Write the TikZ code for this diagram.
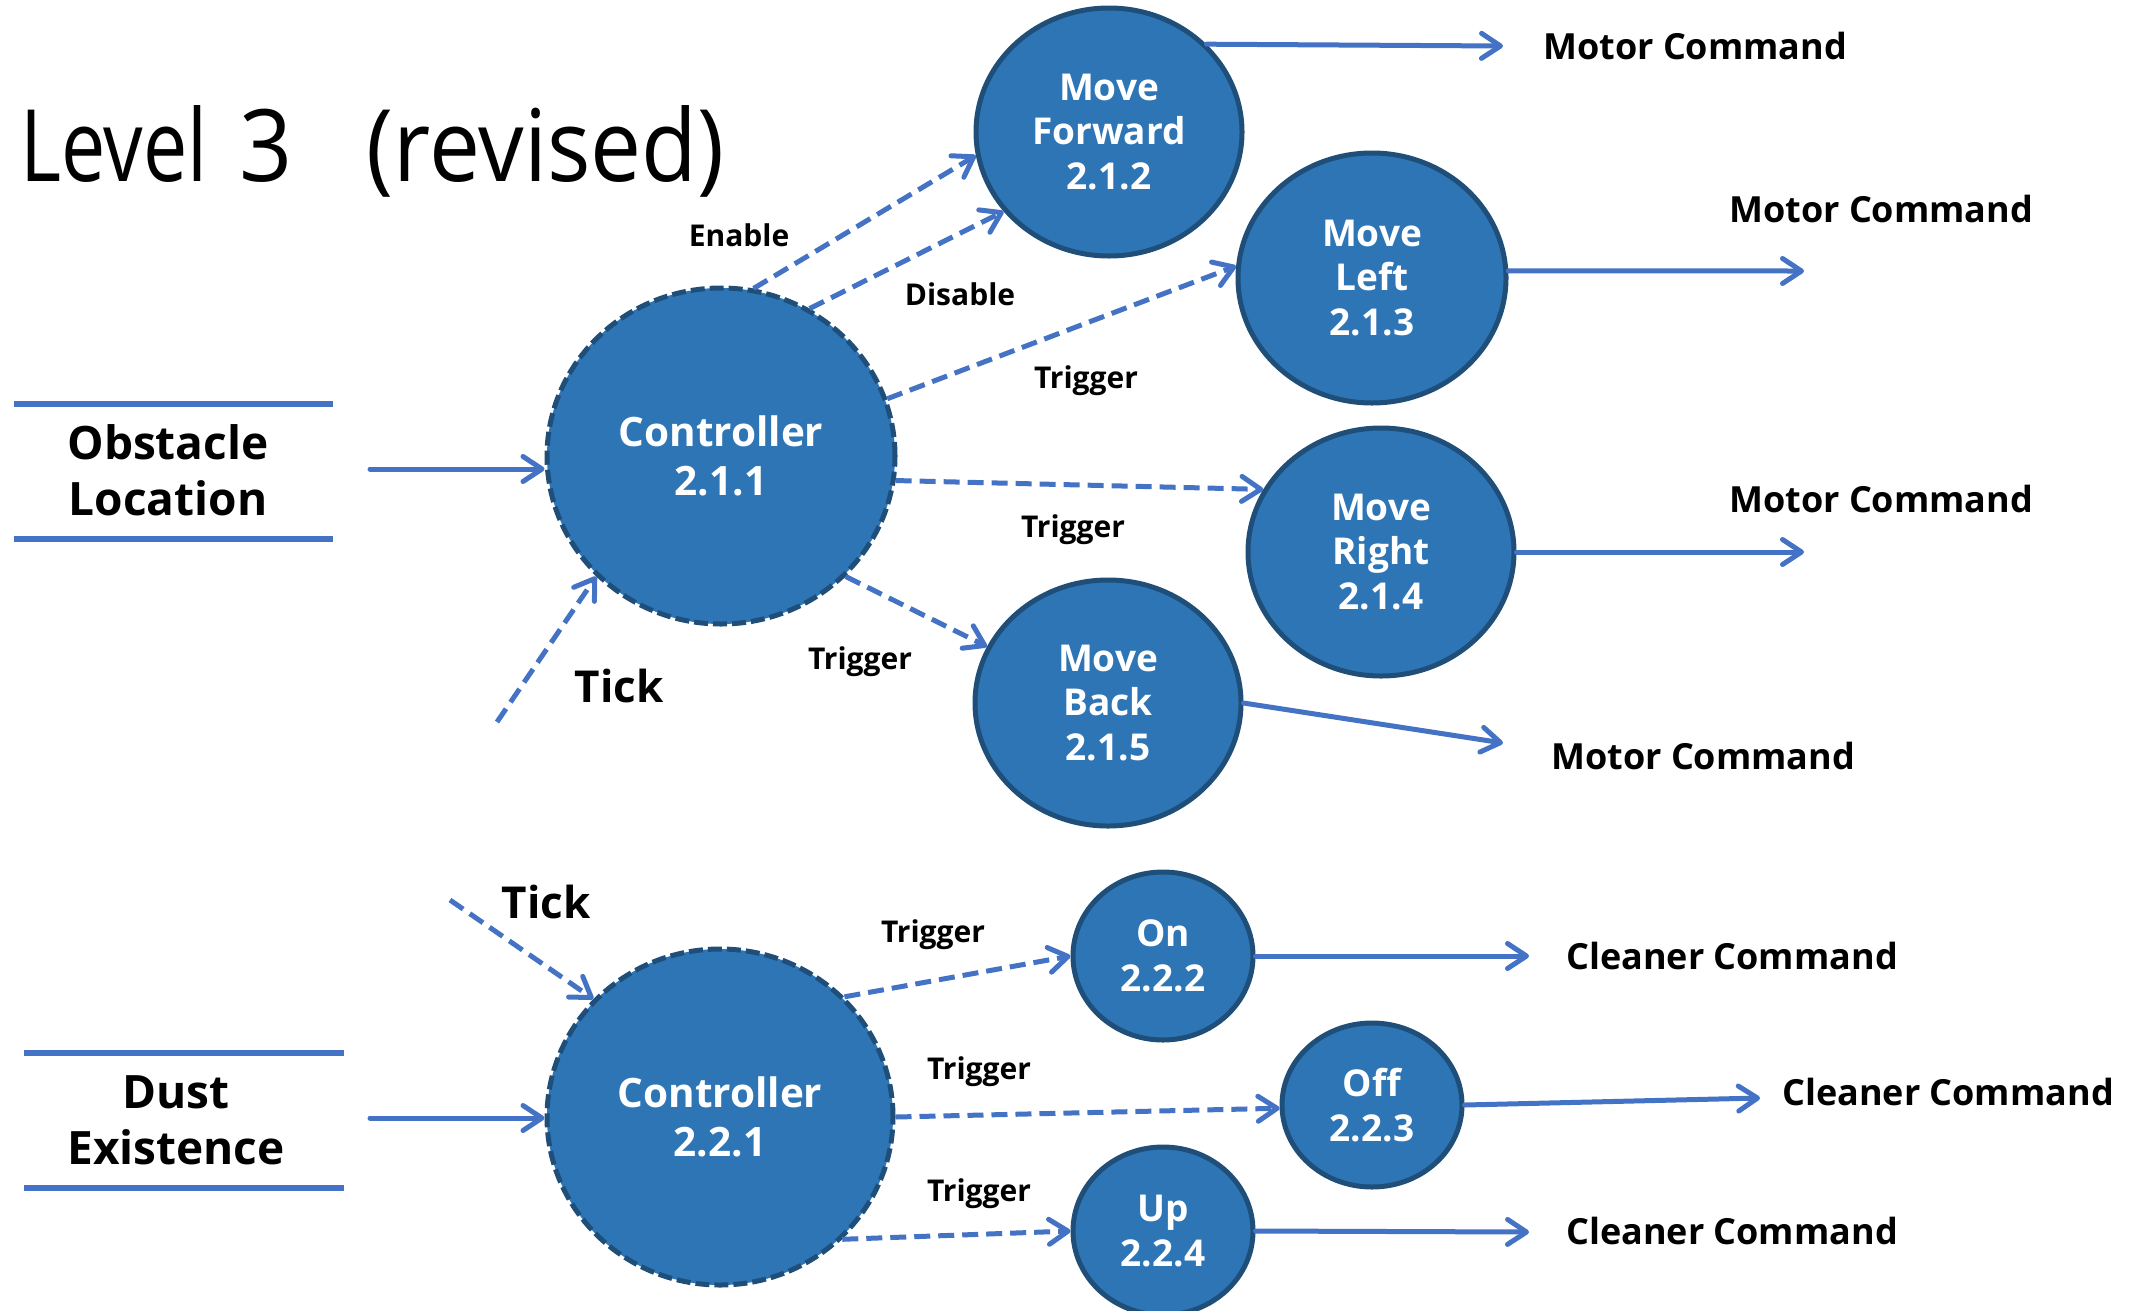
\documentclass[tikz,border=0pt]{standalone}
\usepackage{fontspec}
\setmainfont{Open Sans}
\usetikzlibrary{arrows.meta,shapes.geometric}
\definecolor{fillblue}{HTML}{2E75B6}
\definecolor{edgeblue}{HTML}{1F4E79}
\definecolor{arrblue}{HTML}{4472C4}
\begin{document}
\begin{tikzpicture}[x=1pt,y=-1pt,
  proc/.style={ellipse, draw=edgeblue, fill=fillblue, line width=5pt, inner sep=0pt, text=white, font=\bfseries\fontsize{37}{44.5}\selectfont, align=center},
  ctrl/.style={proc, dash pattern=on 14pt off 5pt, font=\bfseries\fontsize{40.5}{49}\selectfont},
  flow/.style={draw=arrblue, line width=5pt, line cap=round, -{Straight Barb[length=19pt,width=25pt,round]}},
  ctl/.style={flow, dash pattern=on 16pt off 8pt, line cap=butt},
  lbl/.style={font=\bfseries\fontsize{30}{34}\selectfont, inner sep=0pt},
  cmd/.style={font=\bfseries\fontsize{36}{40}\selectfont, anchor=west, inner sep=0pt},
  big/.style={font=\bfseries\fontsize{46}{56}\selectfont, align=center, inner sep=0pt},
  store/.style={draw=arrblue, line width=6pt}]
\useasboundingbox (0,0) rectangle (2133,1310);

% title
\node[anchor=base west, inner sep=0pt, font=\fontsize{100}{110}\selectfont] (title) at (20,181)
  {\scalebox{0.79}[1]{Level}\hspace*{32pt}\scalebox{0.93}[1]{3}\hspace*{74pt}\scalebox{0.91}[1]{(revised)}};

% processes
\node[ctrl, minimum width=348pt, minimum height=336pt] (c1) at (721,456) {Controller\\2.1.1};
\node[proc, minimum width=266pt, minimum height=248pt] (mf) at (1109,132) {Move\\Forward\\2.1.2};
\node[proc, minimum width=268pt, minimum height=250pt] (ml) at (1372,278) {Move\\Left\\2.1.3};
\node[proc, minimum width=266pt, minimum height=248pt] (mr) at (1381,552) {Move\\Right\\2.1.4};
\node[proc, minimum width=266pt, minimum height=246pt] (mb) at (1108,703) {Move\\Back\\2.1.5};
\node[ctrl, minimum width=346pt, minimum height=336pt] (c2) at (720,1117) {Controller\\2.2.1};
\node[proc, minimum width=180pt, minimum height=168pt] (on) at (1163,956) {On\\2.2.2};
\node[proc, minimum width=180pt, minimum height=164pt] (off) at (1372,1105) {Off\\2.2.3};
\node[proc, minimum width=180pt, minimum height=168pt] (up) at (1163,1231) {Up\\2.2.4};

% data stores
\draw[store] (14,404) coordinate (s1a) -- (333,404) coordinate (s1b);
\draw[store] (14,539) coordinate (s1c) -- (333,539) coordinate (s1d);
\node[big] (obs) at (168,470) {Obstacle\\Location};
\draw[store] (24,1053) coordinate (s2a) -- (344,1053) coordinate (s2b);
\draw[store] (24,1188) coordinate (s2c) -- (344,1188) coordinate (s2d);
\node[big] (dust) at (176,1120) {Dust\\Existence};

% free ends
\coordinate (in1) at (370,469);
\coordinate (in2) at (370,1118);
\coordinate (t1) at (497,722);
\coordinate (t2) at (450,900);
\coordinate (o1) at (1503,46);
\coordinate (o2) at (1804,271);
\coordinate (o3) at (1804,552);
\coordinate (o4) at (1503,743);
\coordinate (o5) at (1529,956);
\coordinate (o6) at (1760,1098);
\coordinate (o7) at (1529,1232);

% inputs
\draw[flow] (in1) -- (in1 -| c1.west);
\draw[flow] (in2) -- (in2 -| c2.west);
\draw[ctl] (t1) -- (c1.224);
\draw[ctl] (t2) -- (c2.137);
\node[big, font=\bfseries\fontsize{44}{52}\selectfont] (tick1) at (619,686) {Tick};
\node[big, font=\bfseries\fontsize{44}{52}\selectfont] (tick2) at (546,902) {Tick};

% control flows level 2.1
\draw[ctl] (c1.79) -- (mf.190);
\draw[ctl] (c1.59) -- (mf.217);
\draw[ctl] (c1.19.5) -- (ml.175);
\draw[ctl] (c1.-8) -- (mr.152);
\draw[ctl] (c1.-44) -- (mb.155);
\node[lbl] (enl) at (739,235) {Enable};
\node[lbl] (dis) at (960,294) {Disable};
\node[lbl] (tr1) at (1086,381) {Trigger};
\node[lbl] (tr2) at (1073,530) {Trigger};
\node[lbl] (tr3) at (860,662) {Trigger};

% control flows level 2.2
\draw[ctl] (c2.44) -- (on.180);
\draw[ctl] (c2.0) -- (off.182);
\draw[ctl] (c2.-45) -- (up.180);
\node[lbl] (tr4) at (933,935) {Trigger};
\node[lbl] (tr5) at (979,1072) {Trigger};
\node[lbl] (tr6) at (979,1194) {Trigger};

% outputs
\draw[flow] (mf.42) -- (o1);
\draw[flow] (ml.3) -- (o2);
\draw[flow] (mr.east) -- (o3);
\draw[flow] (mb.east) -- (o4);
\draw[flow] (on.east) -- (o5);
\draw[flow] (off.east) -- (o6);
\draw[flow] (up.east) -- (o7);
\node[cmd] (m1) at (1543,46) {Motor Command};
\node[cmd] (m2) at (1729,209) {Motor Command};
\node[cmd] (m3) at (1729,499) {Motor Command};
\node[cmd] (m4) at (1551,756) {Motor Command};
\node[cmd] (k1) at (1566,956) {Cleaner Command};
\node[cmd] (k2) at (1782,1092) {Cleaner Command};
\node[cmd] (k3) at (1566,1231) {Cleaner Command};
\end{tikzpicture}
\end{document}
